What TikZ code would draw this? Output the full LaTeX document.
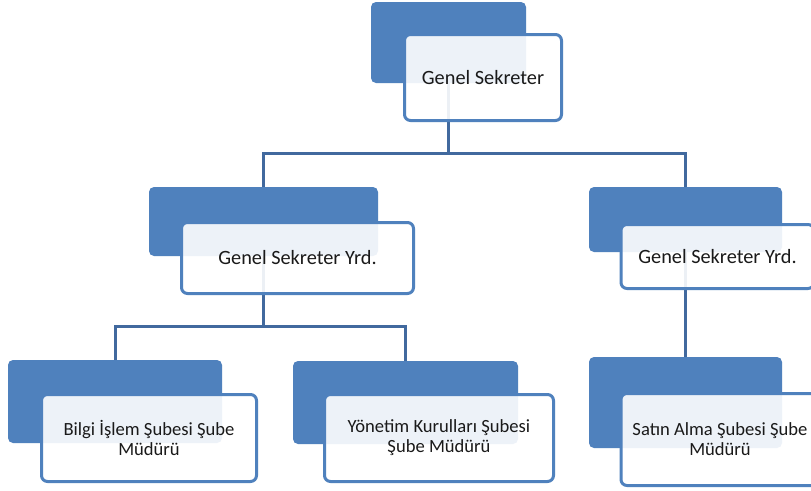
\documentclass[tikz,border=0pt]{standalone}
\usepackage{fontspec}
\setmainfont{Carlito}
\definecolor{boxblue}{HTML}{4F81BD}
\definecolor{linkblue}{HTML}{41699E}
\definecolor{txt}{HTML}{1A1A1A}
\pgfdeclarelayer{back}
\pgfsetlayers{back,main}
\begin{document}
\begin{tikzpicture}[x=1pt,y=-1pt,
  bluebox/.style={fill=boxblue, draw=none, rounded corners=5pt, inner sep=0pt},
  whitebox/.style={fill=white, fill opacity=0.9, text opacity=1, draw=boxblue, line width=3pt,
     rounded corners=6pt, inner sep=0pt, text=txt, align=center},
  big/.style={font=\fontsize{20.3}{24}\selectfont},
  small/.style={font=\fontsize{18.6}{20}\selectfont},
  conn/.style={draw=linkblue, line width=3pt}]
\clip (0,0) rectangle (811,490);
% blue back boxes
\node[bluebox, minimum width=155pt, minimum height=81pt] (b1) at (448.5,42.5) {};
\node[bluebox, minimum width=229pt, minimum height=69pt] (b2) at (263.5,221.5) {};
\node[bluebox, minimum width=193pt, minimum height=65pt] (b3) at (685.5,219.5) {};
\node[bluebox, minimum width=214pt, minimum height=83pt] (b4) at (115,401.5) {};
\node[bluebox, minimum width=225pt, minimum height=83pt] (b5) at (405.5,402.5) {};
\node[bluebox, minimum width=193pt, minimum height=91pt] (b6) at (685.5,402.5) {};
% white front boxes
\node[whitebox, big, minimum width=157pt, minimum height=86pt] (w1) at (483,77.5) {Genel Sekreter};
\node[whitebox, big, minimum width=232pt, minimum height=71pt] (w2) at (297.5,258) {Genel Sekreter Yrd.};
\node[whitebox, big, minimum width=193pt, minimum height=64pt] (w3) at (717.5,256.5) {Genel Sekreter Yrd.};
\node[whitebox, small, minimum width=215pt, minimum height=87pt] (w4) at (149,438) {Bilgi İşlem Şubesi Şube\\Müdürü};
\node[whitebox, small, minimum width=229pt, minimum height=87pt] (w5) at (439,438) {Yönetim Kurulları Şubesi\\Şube Müdürü};
\node[whitebox, small, minimum width=198pt, minimum height=92pt] (w6) at (720,439.5) {Satın Alma Şubesi Şube\\Müdürü};
% connectors (behind the boxes)
\begin{pgfonlayer}{back}
\fill[white] (0,0) rectangle (811,490);
\coordinate (j1) at (448.5,153);
\coordinate (j2) at (263.5,326);
\path[conn] (b1.center) -- (j1) -| (b2.north);
\path[conn] (j1) -| (b3.north);
\path[conn] (b2.center) -- (j2) -| (b4.north);
\path[conn] (j2) -| (b5.north);
\path[conn] (b3.center) -- (b6.north);
\end{pgfonlayer}
\end{tikzpicture}
\end{document}
